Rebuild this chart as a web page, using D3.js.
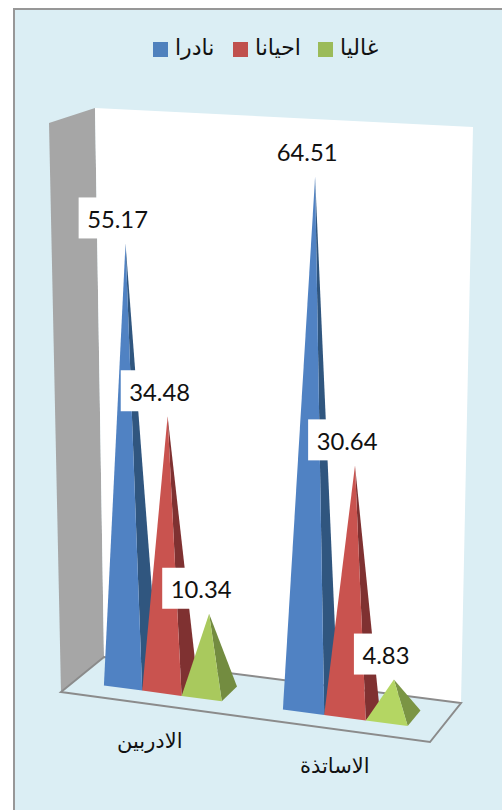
<!DOCTYPE html>
<html lang="ar">
<head>
<meta charset="utf-8">
<title>3D pyramid chart</title>
<script src="https://cdn.jsdelivr.net/npm/d3@7"></script>
<style>
html, body { margin: 0; padding: 0; background: #fff; overflow: hidden; }
svg { display: block; }
.arabic { font-family: "Liberation Sans", "DejaVu Sans", "Noto Sans", sans-serif; fill: #111; }
.value { font-family: Lato, "Open Sans", sans-serif; fill: #111; }
</style>
</head>
<body>
<svg id="chart" width="502" height="810"></svg>
<script>
// Chart data
const categories = ["الادربين", "الاساتذة"];
const seriesNames = ["نادرا", "احيانا", "غاليا"];
const rarely = [55.17, 64.51];
const sometimes = [34.48, 30.64];
const often = [10.34, 4.83];
const seriesValues = [rarely, sometimes, often];

// Series colours: front face, shaded side face, legend swatch
const frontColors = ["#5082c3", "#c9534f", "#a9c95d"];
const sideColors = ["#30567f", "#7f3131", "#738c40"];
const swatchColors = ["#4f81bd", "#c0504d", "#9bbb59"];

const svg = d3.select("#chart");

// Corners of the perspective box on screen
const floorFrontLeft = [61, 692], floorFrontRight = [430, 742];
const floorBackLeft = [104, 657], floorBackRight = [461, 703];
const topFrontLeft = [49, 123], topFrontRight = [446, 142];
const topBackLeft = [95, 108], topBackRight = [473, 127];

const lerp = (a, b, t) => [a[0] + (b[0] - a[0]) * t, a[1] + (b[1] - a[1]) * t];
const plane = (fl, fr, bl, br, u, v) => lerp(lerp(fl, fr, u), lerp(bl, br, u), v);

// Scales: category and series along the floor, depth across it, value up the wall.
const xCategory = d3.scaleBand().domain(categories).range([0.01, 1]).paddingInner(1 / 3).paddingOuter(1 / 6);
const xSeries = d3.scaleBand().domain(seriesNames).range([0, xCategory.bandwidth()]);
const foreshorten = d3.scalePow().exponent(1.05).domain([0, 1]).range([0, 1]);
const depth = d3.scaleLinear().domain([0, 1]).range([0.3, 0.7]);
const yValue = d3.scalePow().exponent(1.04).domain([0, 70.3]).range([0, 1]);

// Maps (position along floor, depth, value) to a screen point
function project(t, d, value) {
  const u = foreshorten(t), v = depth(d), h = yValue(value);
  const base = plane(floorFrontLeft, floorFrontRight, floorBackLeft, floorBackRight, u, v);
  const top = plane(topFrontLeft, topFrontRight, topBackLeft, topBackRight, u, v);
  return lerp(base, top, h);
}

const poly = pts => pts.map(p => p.map(n => n.toFixed(1)).join(",")).join(" ");

// Chart area and frame
svg.append("rect").attr("x", 14).attr("y", 9).attr("width", 600).attr("height", 900)
  .attr("fill", "#dbeef4").attr("stroke", "#979797").attr("stroke-width", 2);

// Walls
svg.append("polygon").attr("points", poly([topFrontLeft, topBackLeft, floorBackLeft, floorFrontLeft])).attr("fill", "#a6a6a6");
svg.append("polygon").attr("points", poly([topBackLeft, topBackRight, floorBackRight, floorBackLeft])).attr("fill", "#ffffff");

// Floor outline
svg.append("polygon").attr("points", poly([floorFrontLeft, floorFrontRight, floorBackRight, floorBackLeft]))
  .attr("fill", "#dbeef4").attr("stroke", "#8b8b8b").attr("stroke-width", 2).attr("stroke-linejoin", "miter");

// Pyramids, left to right so nearer shapes overlap the shaded sides
const labels = [];
categories.forEach((cat, c) => {
  seriesNames.forEach((name, s) => {
    const value = seriesValues[s][c];
    const t0 = xCategory(cat) + xSeries(name);
    const t1 = t0 + xSeries.bandwidth();
    const frontLeft = project(t0, 0, 0);
    const frontRight = project(t1, 0, 0);
    const backRight = project(t1, 1, 0);
    const apex = project((t0 + t1) / 2, 0.5, value);
    const tint = c === 1 && s === 2 ? 0.18 : 0;
    svg.append("polygon").attr("points", poly([frontRight, backRight, apex]))
      .attr("fill", d3.color(sideColors[s]).brighter(tint));
    svg.append("polygon").attr("points", poly([frontLeft, frontRight, apex]))
      .attr("fill", d3.color(frontColors[s]).brighter(tint));
    labels.push({ value, apex });
  });
});

// Value labels on white boxes, drawn over every pyramid
const valueFormat = d3.format(".2f");
labels.forEach(({ value, apex }) => {
  const g = svg.append("g").attr("transform", `translate(${apex[0] - 8},${apex[1] - 25.5})`);
  const box = g.append("rect").attr("y", -20.5).attr("height", 41).attr("fill", "#fff");
  const text = g.append("text").attr("class", "value").attr("text-anchor", "middle")
    .attr("y", 1.5).attr("dy", "0.36em").attr("font-size", 23.8).text(valueFormat(value));
  const w = text.node().getComputedTextLength() + 17;
  box.attr("x", -w / 2).attr("width", w);
});

// Category labels under the front edge of the floor
categories.forEach(cat => {
  const p = lerp(floorFrontLeft, floorFrontRight, foreshorten(xCategory(cat) + xCategory.bandwidth() / 2));
  svg.append("text").attr("class", "arabic").attr("x", p[0]).attr("y", p[1] + 44)
    .attr("text-anchor", "middle").attr("font-size", 21).text(cat);
});

// Legend
const legendSwatchX = [153, 233, 318];
seriesNames.forEach((name, i) => {
  svg.append("rect").attr("x", legendSwatchX[i]).attr("y", 42).attr("width", 15).attr("height", 15).attr("fill", swatchColors[i]);
  svg.append("text").attr("class", "arabic").attr("x", legendSwatchX[i] + 22).attr("y", 55)
    .attr("font-size", 22).text(name);
});
</script>
</body>
</html>
